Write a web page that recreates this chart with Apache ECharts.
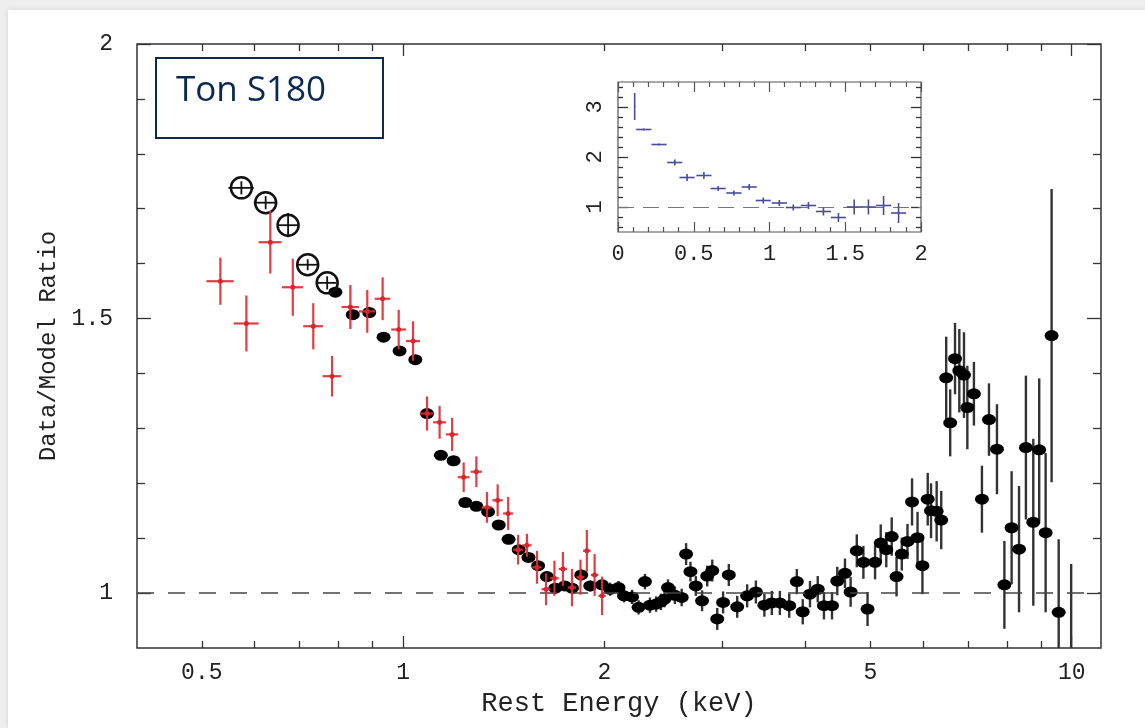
<!DOCTYPE html>
<html><head><meta charset="utf-8">
<script src="https://cdn.jsdelivr.net/npm/echarts@6/dist/echarts.min.js"></script>
<style>
html,body{margin:0;padding:0;width:1145px;height:728px;background:#eeeeee;overflow:hidden;}
#card{position:absolute;left:8px;top:10px;right:0;bottom:0;background:#fff;box-shadow:0 0 5px rgba(0,0,0,0.10);}
#chart{position:absolute;left:0;top:0;width:1145px;height:728px;}
</style></head><body><div id="card"></div><div id="chart"></div>
<script>
// ---- Main panel: black filled points (energy keV, data/model ratio, 1-sigma error)
const pnEnergy = [0.792,0.841,0.890,0.935,0.988,1.043,1.086,1.139,1.190,1.239,1.287,1.340,1.390,1.438,1.489,1.540,1.592,1.641,1.689,1.745,1.789,1.847,1.905,1.984,
  2.04,2.10,2.14,2.20,2.25,2.30,2.34,2.39,2.43,2.46,2.49,2.55,2.61,2.65,2.69,2.74,2.80,2.85,2.90,2.95,3.01,3.07,3.16,3.27,3.37,3.47,3.56,3.66,3.78,3.88,3.96,
  4.06,4.17,4.26,4.38,4.46,4.58,4.67,4.77,4.88,4.95,5.08,5.18,5.28,5.38,5.47,5.57,5.68,5.77,5.88,5.98,6.09,6.16,6.28,6.38,6.49,6.58,6.69,6.79,6.90,6.98,
  7.14,7.34,7.52,7.73,7.93,8.13,8.34,8.54,8.76,8.94,9.14,9.33,9.56,9.98];
const pnRatio = [1.548,1.507,1.511,1.466,1.441,1.425,1.327,1.251,1.241,1.165,1.158,1.148,1.124,1.098,1.079,1.065,1.050,1.030,1.009,1.013,1.009,1.033,1.013,1.015,
  1.007,1.010,0.995,0.993,0.974,1.021,0.978,0.980,0.984,0.989,1.010,0.996,0.992,1.071,1.039,1.013,0.986,1.031,1.041,0.953,0.983,1.033,0.975,0.995,1.002,0.978,0.982,0.982,0.977,1.021,0.966,
  0.998,1.007,0.977,0.977,1.022,1.036,1.002,1.077,1.056,0.971,1.056,1.091,1.079,1.103,1.030,1.071,1.094,1.166,1.101,1.050,1.171,1.150,1.149,1.133,1.392,1.310,1.427,1.405,1.397,1.338,
  1.363,1.171,1.316,1.262,1.015,1.119,1.080,1.265,1.129,1.261,1.110,1.469,0.965,0.800];
const pnErr = [0.008,0.008,0.010,0.006,0.006,0.008,0.008,0.006,0.006,0.006,0.006,0.006,0.007,0.007,0.007,0.007,0.008,0.008,0.008,0.009,0.009,0.010,0.010,0.011,
  0.012,0.012,0.012,0.013,0.013,0.014,0.014,0.014,0.015,0.015,0.015,0.016,0.016,0.020,0.018,0.018,0.019,0.019,0.020,0.020,0.020,0.020,0.020,0.021,0.021,0.021,0.022,0.022,0.022,0.023,0.023,
  0.024,0.024,0.025,0.025,0.026,0.027,0.027,0.030,0.030,0.031,0.031,0.034,0.032,0.035,0.036,0.030,0.032,0.043,0.047,0.052,0.048,0.050,0.055,0.053,0.075,0.061,0.065,0.076,0.078,0.076,
  0.058,0.061,0.066,0.082,0.080,0.103,0.115,0.131,0.152,0.130,0.145,0.267,0.133,0.253];

// ---- Main panel: open circles (low-energy black data)
const ocEnergy = [0.573,0.623,0.673,0.720,0.770];
const ocRatio  = [1.738,1.711,1.670,1.598,1.565];
const ocErr    = [0.012,0.012,0.022,0.010,0.012];
const ocHalfWidth = 0.025;

// ---- Main panel: red points
const redEnergy = [0.533,0.583,0.633,0.684,0.734,0.783,0.834,0.884,0.932,0.985,1.035,1.086,1.134,1.184,1.232,1.287,1.335,1.385,1.436,1.486,1.532,1.586,1.636,1.684,1.734,1.789,1.842,1.883,1.934,1.984];
const redRatio  = [1.568,1.491,1.639,1.557,1.486,1.395,1.521,1.513,1.536,1.480,1.459,1.327,1.311,1.289,1.211,1.221,1.156,1.169,1.145,1.079,1.087,1.047,1.007,1.027,1.044,1.010,1.029,1.077,1.033,0.995];
const redErr    = [0.043,0.051,0.057,0.052,0.042,0.037,0.040,0.039,0.039,0.036,0.036,0.031,0.030,0.030,0.027,0.028,0.028,0.029,0.030,0.027,0.021,0.030,0.029,0.032,0.031,0.034,0.032,0.038,0.038,0.035];
const redHalfWidth = 0.025;

// ---- Inset (blue crosses)
const insX    = [0.110,0.170,0.271,0.375,0.456,0.567,0.661,0.765,0.866,0.959,1.065,1.157,1.257,1.356,1.455,1.559,1.653,1.753,1.852];
const insY    = [3.01,2.55,2.25,1.89,1.59,1.63,1.37,1.28,1.40,1.13,1.08,0.99,1.03,0.91,0.79,1.00,1.00,1.03,0.88];
const insYErr = [0.27,0.02,0.02,0.06,0.07,0.07,0.05,0.05,0.06,0.06,0.06,0.06,0.07,0.08,0.09,0.15,0.15,0.19,0.20];
const insXErr = [0.005,0.05,0.05,0.05,0.05,0.05,0.05,0.05,0.05,0.05,0.05,0.05,0.05,0.05,0.05,0.05,0.05,0.05,0.05];

// ---- Tick labels / tick values
const mainXLabels = [0.5, 1, 2, 5, 10];
const mainXMajor = [1, 10];
const mainXMinor = [0.5,0.6,0.7,0.8,0.9,2,3,4,5,6,7,8,9];
const mainYLabels = [1, 1.5, 2];
const mainYMinor = [1.1,1.2,1.3,1.4,1.6,1.7,1.8,1.9];
const insYLabels = [1, 2, 3];
const insYMinor = [0.6,0.8,1.2,1.4,1.6,1.8,2.2,2.4,2.6,2.8,3.2,3.4];

const TICKC = '#333';
const LABEL_FONT = {fontFamily:'Liberation Mono', fontSize:23, color:'#222'};

function errBars(color, width) {
  return function (params, api) {
    const x = api.value(0), y = api.value(1), ey = api.value(2), ex = api.value(3);
    const t = api.coord([x, y + ey]), b = api.coord([x, y - ey]);
    const ch = [{type:'line', shape:{x1:t[0], y1:t[1], x2:b[0], y2:b[1]}, style:{stroke:color, lineWidth:width}}];
    if (ex > 0) {
      const l = api.coord([x - ex, y]), r = api.coord([x + ex, y]);
      ch.push({type:'line', shape:{x1:l[0], y1:l[1], x2:r[0], y2:r[1]}, style:{stroke:color, lineWidth:width}});
    }
    return {type:'group', children: ch};
  };
}

function xLog(pos, ticks, len, labels) {
  return {
    type:'log', logBase:10, gridIndex:0, min:0.4, max:11.06, position:pos,
    axisLine:{show:false}, splitLine:{show:false}, minorTick:{show:false}, minorSplitLine:{show:false},
    axisTick:{show:true, inside:true, length:len, customValues:ticks, lineStyle:{color:TICKC, width:1.3}},
    axisLabel: labels ? Object.assign({show:true, customValues:labels, margin:13,
      formatter: v => String(+(+v).toPrecision(6))}, LABEL_FONT) : {show:false}
  };
}
function yLin(grid, min, max, pos, ticks, len, labels, extra) {
  return Object.assign({
    type:'value', gridIndex:grid, min:min, max:max, position:pos,
    axisLine:{show:false}, splitLine:{show:false},
    axisTick:{show:true, inside:true, length:len, customValues:ticks, lineStyle:{color:TICKC, width:1.3}},
    axisLabel: labels ? Object.assign({show:true, customValues:labels, margin:24,
      formatter: v => String(+(+v).toPrecision(6))}, LABEL_FONT) : {show:false}
  }, extra || {});
}
function xInset(pos, labels) {
  return {
    type:'value', gridIndex:1, min:0, max:2, interval:0.5, position:pos,
    axisLine:{show:false}, splitLine:{show:false}, minorSplitLine:{show:false},
    axisTick:{show:true, inside:true, length:10, lineStyle:{color:'#555', width:1.2}},
    minorTick:{show:true, splitNumber:5, length:5, lineStyle:{color:'#555', width:1.2}},
    axisLabel: labels ? Object.assign({show:true, margin:11}, LABEL_FONT, {fontSize:22}) : {show:false}
  };
}

const chart = echarts.init(document.getElementById('chart'), null, {renderer:'canvas'});
const option = {
  animation:false,
  backgroundColor:'transparent',
  grid:[
    {left:137, top:44, width:964, height:604, show:true, borderColor:'#333', borderWidth:1.5, backgroundColor:'transparent'},
    {left:618, top:82, width:303, height:150, show:true, borderColor:'#555', borderWidth:1.2, backgroundColor:'#fff'}
  ],
  xAxis:[
    Object.assign(xLog('bottom', mainXMajor, 12, mainXLabels), {name:'Rest Energy (keV)', nameLocation:'middle', nameGap:42,
      nameTextStyle:{fontFamily:'Liberation Mono', fontSize:27, color:'#222'}}),
    xLog('bottom', mainXMinor, 7, null),
    xLog('top', mainXMajor, 12, null),
    xLog('top', mainXMinor, 7, null),
    xInset('bottom', true),
    xInset('top', false)
  ],
  yAxis:[
    yLin(0, 0.9, 2.0, 'left', mainYLabels, 14, mainYLabels, {name:'Data/Model Ratio', nameLocation:'middle', nameGap:73, nameRotate:90,
      nameTextStyle:{fontFamily:'Liberation Mono', fontSize:24, color:'#222'}}),
    yLin(0, 0.9, 2.0, 'left', mainYMinor, 8, null),
    yLin(0, 0.9, 2.0, 'right', mainYLabels, 14, null),
    yLin(0, 0.9, 2.0, 'right', mainYMinor, 8, null),
    yLin(1, 0.5, 3.5, 'left', insYLabels, 10, insYLabels),
    yLin(1, 0.5, 3.5, 'left', insYMinor, 5, null),
    yLin(1, 0.5, 3.5, 'right', insYLabels, 10, null),
    yLin(1, 0.5, 3.5, 'right', insYMinor, 5, null)
  ],
  graphic:[
    {type:'rect', shape:{x:156, y:58, width:227, height:80}, style:{fill:'#fff', stroke:'#0b2850', lineWidth:2}, z:50},
    {type:'text', x:176, y:91, style:{text:'Ton S180', fill:'#0b2850', font:'35px "Open Sans"', verticalAlign:'middle'}, z:51}
  ],
  series:[
    {type:'custom', name:'black-err', xAxisIndex:0, yAxisIndex:0, clip:true, z:2,
      renderItem: errBars('#333', 2.4), encode:{x:0, y:1},
      data: pnEnergy.map((e,i) => [e, pnRatio[i], pnErr[i], 0]),
      markLine:{silent:true, symbol:['none','none'], label:{show:false},
        lineStyle:{type:[17,14], color:'#444', width:1.6}, data:[{yAxis:1}]}},
    {type:'scatter', name:'black', xAxisIndex:0, yAxisIndex:0, clip:true, z:3,
      symbol:'circle', symbolSize:[14,11], itemStyle:{color:'#000', opacity:1},
      data: pnEnergy.map((e,i) => [e, pnRatio[i]])},
    {type:'custom', name:'open-err', xAxisIndex:0, yAxisIndex:0, clip:true, z:4,
      renderItem: errBars('#111', 1.8), encode:{x:0, y:1},
      data: ocEnergy.map((e,i) => [e, ocRatio[i], ocErr[i], ocHalfWidth])},
    {type:'scatter', name:'open', xAxisIndex:0, yAxisIndex:0, z:4,
      symbol:'circle', symbolSize:21, itemStyle:{color:'rgba(0,0,0,0)', borderColor:'#111', borderWidth:2.5, opacity:1},
      data: ocEnergy.map((e,i) => [e, ocRatio[i]])},
    {type:'custom', name:'red-err', xAxisIndex:0, yAxisIndex:0, clip:true, z:5,
      renderItem: errBars('rgba(222,45,50,0.92)', 2.2), encode:{x:0, y:1},
      data: redEnergy.map((e,i) => [e, redRatio[i], redErr[i], redHalfWidth])},
    {type:'scatter', name:'red', xAxisIndex:0, yAxisIndex:0, z:6,
      symbol:'circle', symbolSize:5, itemStyle:{color:'#d8262c', opacity:1},
      data: redEnergy.map((e,i) => [e, redRatio[i]])},
    {type:'custom', name:'inset', xAxisIndex:4, yAxisIndex:4, clip:true, z:10,
      renderItem: errBars('#4b4b9e', 1.6), encode:{x:0, y:1},
      data: insX.map((x,i) => [x, insY[i], insYErr[i], insXErr[i]]),
      markLine:{silent:true, symbol:['none','none'], label:{show:false},
        lineStyle:{type:[16,9], color:'#777', width:1.2}, data:[{yAxis:1}]}}
  ]
};
// rotated inset y labels
option.yAxis[4].axisLabel.rotate = 90;
option.yAxis[4].axisLabel.margin = 12;
option.yAxis[4].axisLabel.fontSize = 22;
chart.setOption(option);
</script>
</body></html>
